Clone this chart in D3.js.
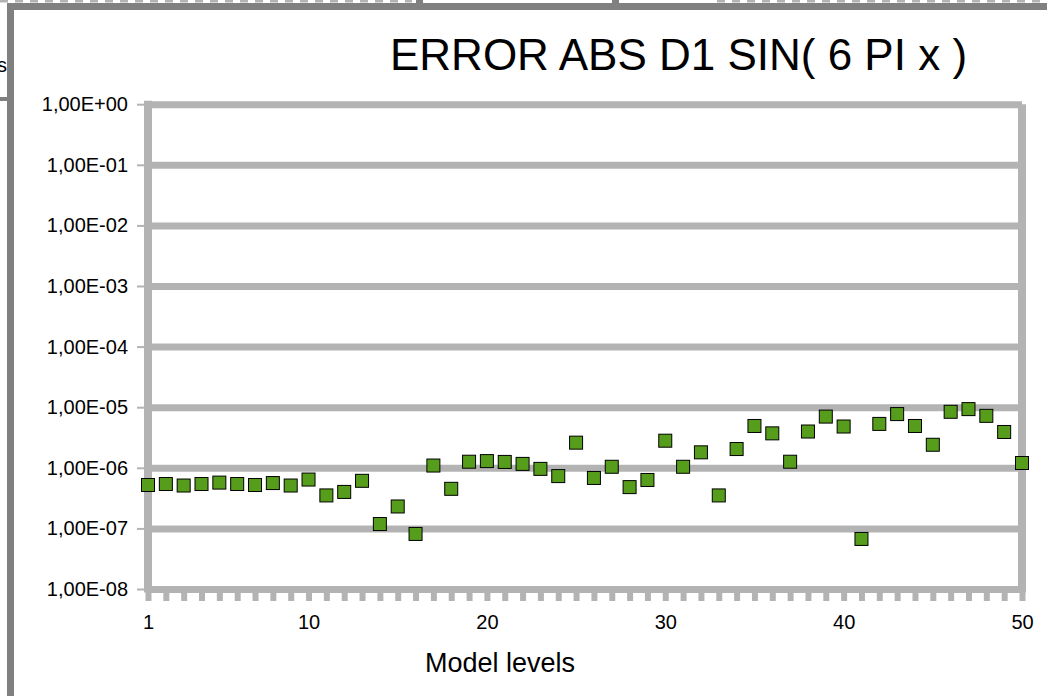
<!DOCTYPE html>
<html>
<head>
<meta charset="utf-8">
<script src="https://cdnjs.cloudflare.com/ajax/libs/d3/7.8.5/d3.min.js"></script>
<style>
  html, body { margin: 0; padding: 0; background: #fff; }
  svg { display: block; font-family: "Liberation Sans", Arial, sans-serif; }
  .grid line { stroke: #b3b3b3; stroke-width: 7px; }
  .grid path { display: none; }
  .yaxis line { stroke: #b3b3b3; stroke-width: 2px; }
  .yaxis path, .xlabels path, .xticks path { display: none; }
  .xticks line { stroke: #b3b3b3; stroke-width: 6px; }
  .point { fill: #579d1c; stroke: #000; stroke-width: 1px; }
</style>
</head>
<body>
<svg width="1047" height="696"></svg>
<script>
var width = 1047,
    height = 696;

// model levels 1..50 and the absolute error at each
var levels = d3.range(1, 51);
var errors = [
  5.2e-7, 5.4e-7, 5.1e-7, 5.4e-7, 5.7e-7, 5.4e-7, 5.2e-7, 5.6e-7, 5.1e-7, 6.4e-7,
  3.5e-7, 4.0e-7, 6.1e-7, 1.18e-7, 2.3e-7, 8.1e-8, 1.09e-6, 4.5e-7, 1.26e-6, 1.29e-6,
  1.25e-6, 1.16e-6, 9.6e-7, 7.3e-7, 2.6e-6, 6.8e-7, 1.04e-6, 4.8e-7, 6.3e-7, 2.8e-6,
  1.04e-6, 1.8e-6, 3.5e-7, 2.04e-6, 4.9e-6, 3.7e-6, 1.26e-6, 3.97e-6, 7.0e-6, 4.8e-6,
  6.7e-8, 5.3e-6, 7.7e-6, 4.9e-6, 2.4e-6, 8.4e-6, 9.3e-6, 7.2e-6, 3.9e-6, 1.2e-6
];
var yTicks = [1, 1e-1, 1e-2, 1e-3, 1e-4, 1e-5, 1e-6, 1e-7, 1e-8];
var xLabels = [1, 10, 20, 30, 40, 50];

var title = "ERROR ABS D1 SIN( 6 PI x )",
    xTitle = "Model levels";

var plot = {left: 148, right: 1022, top: 104.2, bottom: 589};

var x = d3.scaleLinear()
    .domain([1, 50])
    .range([plot.left, plot.right]);

var y = d3.scaleLog()
    .domain([1e-8, 1])
    .range([plot.bottom, plot.top]);

function sci(v) {
  var e = Math.round(Math.log10(v));
  var s = e < 0 ? "-" : "+";
  var n = Math.abs(e);
  return "1,00E" + s + (n < 10 ? "0" + n : n);
}

var svg = d3.select("svg");

// leftovers of the surrounding sheet
var frame = svg.append("g").attr("class", "frame");
frame.append("line")
    .attr("x1", 0).attr("x2", 412).attr("y1", 1).attr("y2", 1)
    .attr("stroke", "#b3b3b3").attr("stroke-width", 3)
    .attr("stroke-dasharray", "8,7");
frame.append("line")
    .attr("x1", 717).attr("x2", width).attr("y1", 1).attr("y2", 1)
    .attr("stroke", "#b3b3b3").attr("stroke-width", 3)
    .attr("stroke-dasharray", "8,7");
frame.append("rect").attr("x", 416).attr("y", 0).attr("width", 7).attr("height", 4).attr("fill", "#808080");
frame.append("rect").attr("x", 612).attr("y", 0).attr("width", 7).attr("height", 4).attr("fill", "#808080");
frame.append("rect").attr("x", 7).attr("y", 3).attr("width", width - 7).attr("height", 7).attr("fill", "#808080");
frame.append("rect").attr("x", 7).attr("y", 3).attr("width", 7).attr("height", height - 3).attr("fill", "#808080");
frame.append("rect").attr("x", 0).attr("y", 97).attr("width", 7).attr("height", 4).attr("fill", "#808080");
frame.append("text")
    .attr("x", -3).attr("y", 72)
    .style("font-size", "20px")
    .text("s");

// title
svg.append("text")
    .attr("x", 390)
    .attr("y", 70)
    .style("font-size", "44px")
    .attr("fill", "#000")
    .text(title);

// horizontal gridlines
svg.append("g")
    .attr("class", "grid")
    .attr("transform", "translate(" + plot.left + ",0)")
    .call(d3.axisLeft(y)
      .tickValues(yTicks)
      .tickSize(-(plot.right - plot.left))
      .tickFormat(""));

// y tick marks and labels
svg.append("g")
    .attr("class", "yaxis")
    .attr("transform", "translate(" + (plot.left - 1) + ",0)")
    .call(d3.axisLeft(y)
      .tickValues(yTicks)
      .tickSize(10)
      .tickPadding(9)
      .tickFormat(sci))
    .selectAll("text")
      .attr("fill", "#000")
      .style("font-size", "20px")
      .style("font-family", "Liberation Sans, Arial, sans-serif");

// small tick squares under the x axis
svg.append("g")
    .attr("class", "xticks")
    .attr("transform", "translate(0," + (plot.bottom + 3) + ")")
    .call(d3.axisBottom(x)
      .tickValues(levels)
      .tickSize(9)
      .tickFormat(""));

// vertical frame lines of the plot area
svg.append("line")
    .attr("x1", plot.left).attr("x2", plot.left)
    .attr("y1", plot.top - 3.5).attr("y2", plot.bottom + 3.5)
    .attr("stroke", "#b3b3b3").attr("stroke-width", 8);
svg.append("line")
    .attr("x1", plot.right).attr("x2", plot.right)
    .attr("y1", plot.top).attr("y2", plot.bottom + 3.5)
    .attr("stroke", "#b3b3b3").attr("stroke-width", 8);

// x labels
svg.append("g")
    .attr("class", "xlabels")
    .attr("transform", "translate(0," + plot.bottom + ")")
    .call(d3.axisBottom(x)
      .tickValues(xLabels)
      .tickSize(0)
      .tickPadding(26))
    .selectAll("text")
      .attr("fill", "#000")
      .style("font-size", "20px")
      .style("font-family", "Liberation Sans, Arial, sans-serif");

// x axis title
svg.append("text")
    .attr("x", 500)
    .attr("y", 672)
    .attr("text-anchor", "middle")
    .style("font-size", "27px")
    .text(xTitle);

// points
var s = 13;
svg.append("g")
  .selectAll("rect")
  .data(levels)
  .enter().append("rect")
    .attr("class", "point")
    .attr("x", function(d) { return x(d) - s / 2; })
    .attr("y", function(d, i) { return y(errors[i]) - s / 2; })
    .attr("width", s)
    .attr("height", s);
</script>
</body>
</html>
